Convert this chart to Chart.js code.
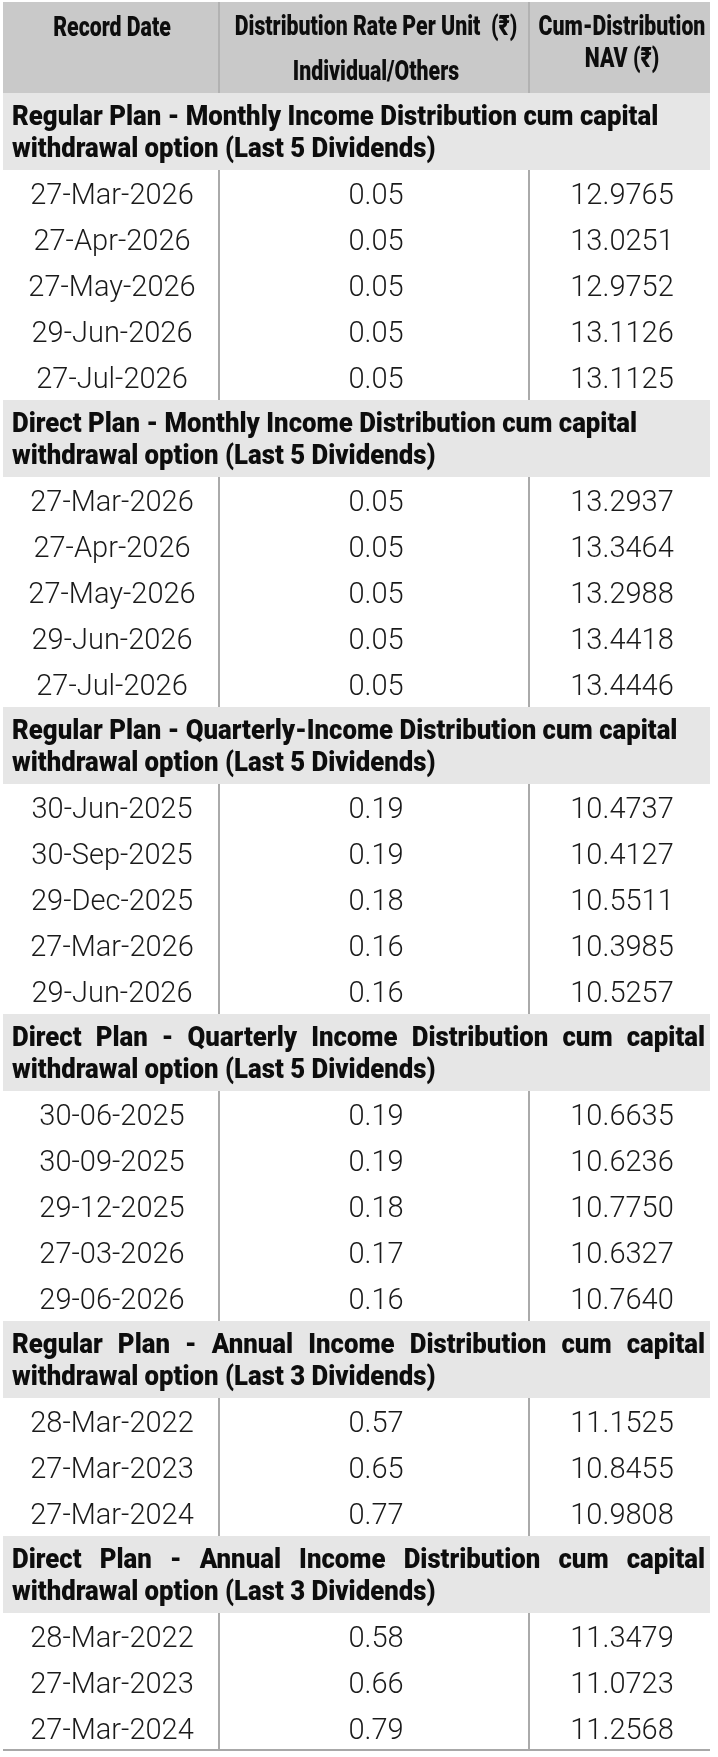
<!DOCTYPE html>
<html>
<head>
<meta charset="utf-8">
<title>IDCW history</title>
<script src="https://cdn.jsdelivr.net/npm/chart.js@4.4.1/dist/chart.umd.min.js"></script>
<style>
  html, body { margin: 0; padding: 0; background: #ffffff; }
  canvas { display: block; }
</style>
</head>
<body>
<canvas id="idcwTable" width="718" height="1757"></canvas>
<script>
// column headings (one entry per line)
const headCol1 = ['Record Date'];
const headCol2 = ['Distribution Rate Per Unit  (\u20B9)', 'Individual/Others'];
const headCol3 = ['Cum-Distribution', 'NAV (\u20B9)'];

// section titles, two lines each
const sectionTitles = [
  ['Regular Plan - Monthly Income Distribution cum capital', 'withdrawal option (Last 5 Dividends)'],
  ['Direct Plan - Monthly Income Distribution cum capital', 'withdrawal option (Last 5 Dividends)'],
  ['Regular Plan - Quarterly-Income Distribution cum capital', 'withdrawal option (Last 5 Dividends)'],
  ['Direct Plan - Quarterly Income Distribution cum capital', 'withdrawal option (Last 5 Dividends)'],
  ['Regular Plan - Annual Income Distribution cum capital', 'withdrawal option (Last 3 Dividends)'],
  ['Direct Plan - Annual Income Distribution cum capital', 'withdrawal option (Last 3 Dividends)']
];

// record dates per section
const regMonthlyDates = ['27-Mar-2026', '27-Apr-2026', '27-May-2026', '29-Jun-2026', '27-Jul-2026'];
const dirMonthlyDates = ['27-Mar-2026', '27-Apr-2026', '27-May-2026', '29-Jun-2026', '27-Jul-2026'];
const regQuarterlyDates = ['30-Jun-2025', '30-Sep-2025', '29-Dec-2025', '27-Mar-2026', '29-Jun-2026'];
const dirQuarterlyDates = ['30-06-2025', '30-09-2025', '29-12-2025', '27-03-2026', '29-06-2026'];
const regAnnualDates = ['28-Mar-2022', '27-Mar-2023', '27-Mar-2024'];
const dirAnnualDates = ['28-Mar-2022', '27-Mar-2023', '27-Mar-2024'];

// distribution rate per unit (₹)
const regMonthlyRate = [0.05, 0.05, 0.05, 0.05, 0.05];
const dirMonthlyRate = [0.05, 0.05, 0.05, 0.05, 0.05];
const regQuarterlyRate = [0.19, 0.19, 0.18, 0.16, 0.16];
const dirQuarterlyRate = [0.19, 0.19, 0.18, 0.17, 0.16];
const regAnnualRate = [0.57, 0.65, 0.77];
const dirAnnualRate = [0.58, 0.66, 0.79];

// cum-distribution NAV (₹)
const regMonthlyNav = [12.9765, 13.0251, 12.9752, 13.1126, 13.1125];
const dirMonthlyNav = [13.2937, 13.3464, 13.2988, 13.4418, 13.4446];
const regQuarterlyNav = [10.4737, 10.4127, 10.5511, 10.3985, 10.5257];
const dirQuarterlyNav = [10.6635, 10.6236, 10.7750, 10.6327, 10.7640];
const regAnnualNav = [11.1525, 10.8455, 10.9808];
const dirAnnualNav = [11.3479, 11.0723, 11.2568];

const sectionDates = [regMonthlyDates, dirMonthlyDates, regQuarterlyDates, dirQuarterlyDates, regAnnualDates, dirAnnualDates];
const sectionRates = [regMonthlyRate, dirMonthlyRate, regQuarterlyRate, dirQuarterlyRate, regAnnualRate, dirAnnualRate];
const sectionNavs = [regMonthlyNav, dirMonthlyNav, regQuarterlyNav, dirQuarterlyNav, regAnnualNav, dirAnnualNav];

// layout (scale units = px of the 718x1757 page)
const TABLE_TOP = 2, HEAD_H = 91, SECTION_H = 77, ROW_H = 46;
const TABLE_LEFT = 3, TABLE_RIGHT = 710;
const DIVIDERS = [219, 529];
const COL_CENTER = [112, 376, 622];
const JUSTIFY_TITLE = [false, false, false, true, true, true];

const HEAD_FONT = '900 28px Roboto, "Liberation Sans", sans-serif';
const TITLE_FONT = '900 28px Roboto, "Liberation Sans", sans-serif';
const CELL_FONT = '300 29px Roboto, "Liberation Sans", sans-serif';
const HEAD_SX = 0.76, TITLE_SX = 0.92;

// walk the sections once to get every block's top / bottom
const blocks = [];
let cursor = TABLE_TOP + HEAD_H;
sectionTitles.forEach((title, s) => {
  blocks.push({ kind: 'title', s: s, top: cursor, bottom: cursor + SECTION_H });
  cursor += SECTION_H;
  sectionDates[s].forEach((d, i) => {
    blocks.push({ kind: 'row', s: s, i: i, top: cursor, bottom: cursor + ROW_H });
    cursor += ROW_H;
  });
});
const TABLE_BOTTOM = cursor;

// one point per cell, placed at the cell centre
const cellPoints = [];
blocks.filter(b => b.kind === 'row').forEach(b => {
  COL_CENTER.forEach((cx, c) => cellPoints.push({ x: cx, y: (b.top + b.bottom) / 2, s: b.s, i: b.i, c: c }));
});

function cellText(p) {
  if (p.c === 0) return sectionDates[p.s][p.i];
  if (p.c === 1) return sectionRates[p.s][p.i].toFixed(2);
  return sectionNavs[p.s][p.i].toFixed(4);
}

function drawText(ctx, text, x, y, font, align, sx) {
  ctx.save();
  ctx.font = font;
  ctx.textAlign = align;
  ctx.textBaseline = 'alphabetic';
  ctx.translate(x, y);
  ctx.scale(sx, 1);
  ctx.fillText(text, 0, 0);
  ctx.restore();
}

// spread the words so the line fills x0..x1
function drawJustified(ctx, text, x0, x1, y, font, sx) {
  ctx.save();
  ctx.font = font;
  ctx.textAlign = 'left';
  ctx.translate(x0, y);
  ctx.scale(sx, 1);
  const words = text.split(' ');
  const widths = words.map(w => ctx.measureText(w).width);
  const total = widths.reduce((a, b) => a + b, 0);
  const gap = ((x1 - x0) / sx - total) / (words.length - 1);
  let x = 0;
  words.forEach((w, k) => {
    ctx.fillText(w, x, 0);
    x += widths[k] + gap;
  });
  ctx.restore();
}

const tablePlugin = {
  id: 'tablePlugin',
  beforeDatasetsDraw(chart) {
    const ctx = chart.ctx;
    const xs = chart.scales.x, ys = chart.scales.y;
    const X = v => xs.getPixelForValue(v);
    const Y = v => ys.getPixelForValue(v);
    const left = X(TABLE_LEFT), right = X(TABLE_RIGHT);

    // header band
    ctx.fillStyle = '#c9c9c9';
    ctx.fillRect(left, Y(TABLE_TOP), right - left, Y(TABLE_TOP + HEAD_H) - Y(TABLE_TOP));
    ctx.strokeStyle = '#b2b2b2';
    ctx.lineWidth = 2;
    DIVIDERS.forEach(d => {
      ctx.beginPath();
      ctx.moveTo(X(d), Y(TABLE_TOP));
      ctx.lineTo(X(d), Y(TABLE_TOP + HEAD_H));
      ctx.stroke();
    });

    ctx.fillStyle = '#0d0d0d';
    drawText(ctx, headCol1[0], X(COL_CENTER[0]), Y(TABLE_TOP + 34), HEAD_FONT, 'center', HEAD_SX);
    drawText(ctx, headCol2[0], X(COL_CENTER[1]), Y(TABLE_TOP + 33), HEAD_FONT, 'center', HEAD_SX);
    drawText(ctx, headCol2[1], X(COL_CENTER[1]), Y(TABLE_TOP + 78), HEAD_FONT, 'center', HEAD_SX);
    drawText(ctx, headCol3[0], X(COL_CENTER[2]), Y(TABLE_TOP + 33), HEAD_FONT, 'center', HEAD_SX);
    drawText(ctx, headCol3[1], X(COL_CENTER[2]), Y(TABLE_TOP + 65), HEAD_FONT, 'center', HEAD_SX);

    blocks.forEach(b => {
      const top = Y(b.top), bottom = Y(b.bottom);
      if (b.kind === 'title') {
        ctx.fillStyle = '#e6e6e6';
        ctx.fillRect(left, top, right - left, bottom - top);
        ctx.fillStyle = '#0d0d0d';
        const lines = sectionTitles[b.s];
        if (JUSTIFY_TITLE[b.s]) {
          drawJustified(ctx, lines[0], X(12), X(705), Y(b.top + 31.5), TITLE_FONT, TITLE_SX);
        } else {
          drawText(ctx, lines[0], X(12), Y(b.top + 31.5), TITLE_FONT, 'left', TITLE_SX);
        }
        drawText(ctx, lines[1], X(12), Y(b.top + 63.5), TITLE_FONT, 'left', TITLE_SX);
      } else {
        ctx.strokeStyle = '#aaaaaa';
        ctx.lineWidth = 2;
        DIVIDERS.forEach(d => {
          ctx.beginPath();
          ctx.moveTo(X(d), top);
          ctx.lineTo(X(d), bottom);
          ctx.stroke();
        });
      }
    });

    // bottom rule
    ctx.strokeStyle = '#a8a8a8';
    ctx.lineWidth = 2;
    ctx.beginPath();
    ctx.moveTo(left, Y(TABLE_BOTTOM - 1));
    ctx.lineTo(right, Y(TABLE_BOTTOM - 1));
    ctx.stroke();
  },
  afterDatasetsDraw(chart) {
    const ctx = chart.ctx;
    const xs = chart.scales.x, ys = chart.scales.y;
    ctx.fillStyle = '#1a1a1a';
    cellPoints.forEach(p => {
      drawText(ctx, cellText(p), xs.getPixelForValue(p.x), ys.getPixelForValue(p.y + 11), CELL_FONT, 'center', 1);
    });
  }
};

new Chart(document.getElementById('idcwTable'), {
  type: 'scatter',
  data: {
    datasets: [{
      data: cellPoints,
      pointRadius: 0,
      pointHoverRadius: 0
    }]
  },
  options: {
    responsive: false,
    animation: false,
    events: [],
    layout: { padding: 0 },
    plugins: { legend: { display: false }, tooltip: { enabled: false } },
    scales: {
      x: { type: 'linear', min: 0, max: 718, display: false },
      y: { type: 'linear', min: 0, max: 1757, reverse: true, display: false }
    }
  },
  plugins: [tablePlugin]
});
</script>
</body>
</html>
